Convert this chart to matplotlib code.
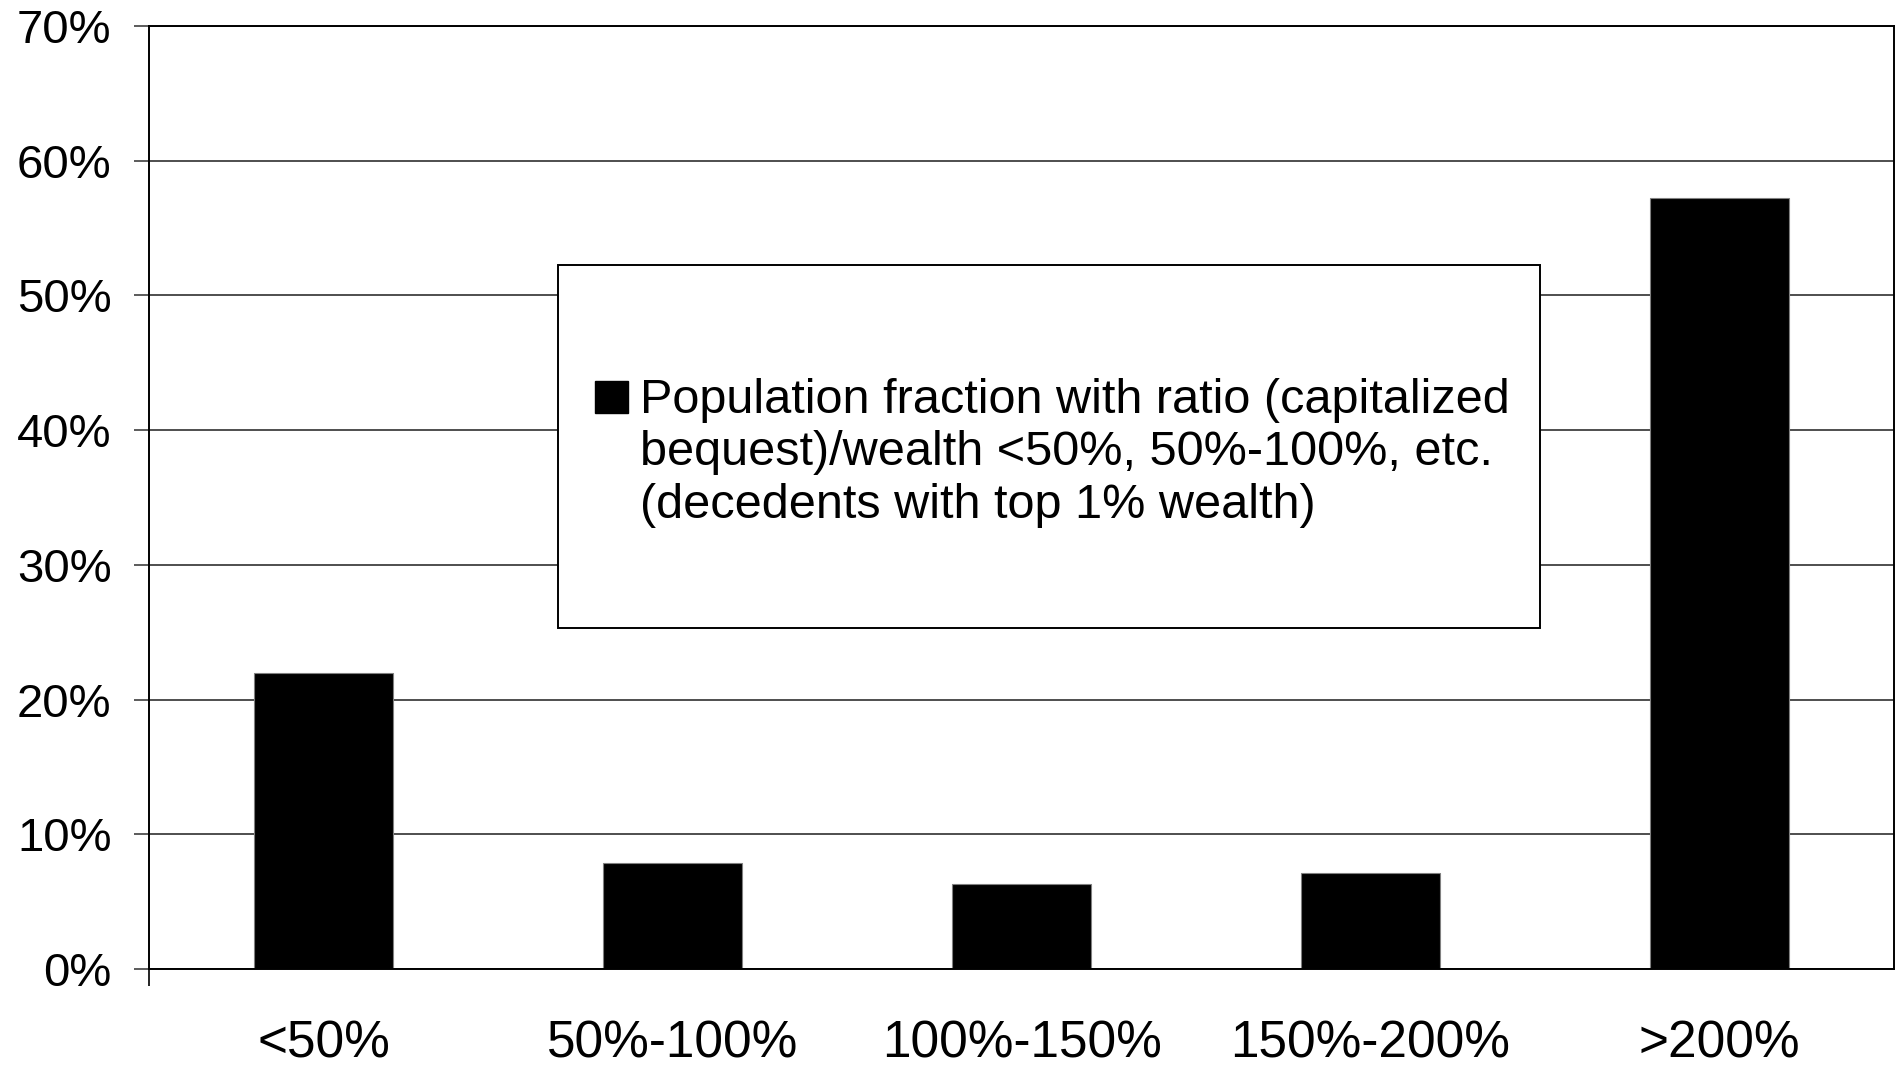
import matplotlib
matplotlib.use("Agg")
import matplotlib.pyplot as plt
from matplotlib.patches import Rectangle
from matplotlib.ticker import FuncFormatter

plt.rcParams['font.family'] = ['Liberation Sans', 'DejaVu Sans']

categories = ['<50%', '50%-100%', '100%-150%', '150%-200%', '>200%']
shares = [22.0, 7.9, 6.3, 7.1, 57.2]
y_ticks = [0, 10, 20, 30, 40, 50, 60, 70]
series_label = ('Population fraction with ratio (capitalized\n'
                'bequest)/wealth <50%, 50%-100%, etc.\n'
                '(decedents with top 1% wealth)')

fig = plt.figure(figsize=(18.96, 10.69), dpi=100)
ax = fig.add_axes([0.0786, 0.0935, 0.9204, 0.8822])

x = range(len(categories))
ax.bar(x, shares, width=0.4, color='black', edgecolor='#808080',
       linewidth=0.8, zorder=2, label=series_label)

ax.set_xlim(-0.5, len(categories) - 0.5)
ax.set_ylim(0, 70)
ax.set_yticks(y_ticks)
ax.yaxis.set_major_formatter(FuncFormatter(lambda v, p: '%d%%' % v))
ax.grid(axis='y', color='#404040', linewidth=1.3, zorder=0)
ax.set_axisbelow(True)

for side in ['left', 'right', 'top', 'bottom']:
    ax.spines[side].set_color('black')
    ax.spines[side].set_linewidth(1.4)

ax.tick_params(axis='y', direction='out', length=11, width=1.2,
               color='#404040', labelsize=34, pad=16)
ax.set_xticks(list(x))
ax.set_xticklabels(categories)
ax.tick_params(axis='x', which='major', length=0, labelsize=37, pad=36)
ax.set_xticks([-0.5], minor=True)
ax.tick_params(axis='x', which='minor', direction='out', length=12,
               width=1.2, color='black')

# legend drawn by hand: box, key square, wrapped label
ax.add_patch(Rectangle((0.2344, 0.3616), 0.5627, 0.385,
                       transform=ax.transAxes, facecolor='white',
                       edgecolor='black', linewidth=1.4, zorder=4))
ax.add_patch(Rectangle((0.2556, 0.5899), 0.0189, 0.0336,
                       transform=ax.transAxes, facecolor='black',
                       edgecolor='black', zorder=5))
ax.text(0.2815, 0.6267, series_label, transform=ax.transAxes,
        ha='left', va='top', fontsize=35, linespacing=1.21, zorder=5)

fig.savefig('out.png', dpi=100, facecolor='white')
